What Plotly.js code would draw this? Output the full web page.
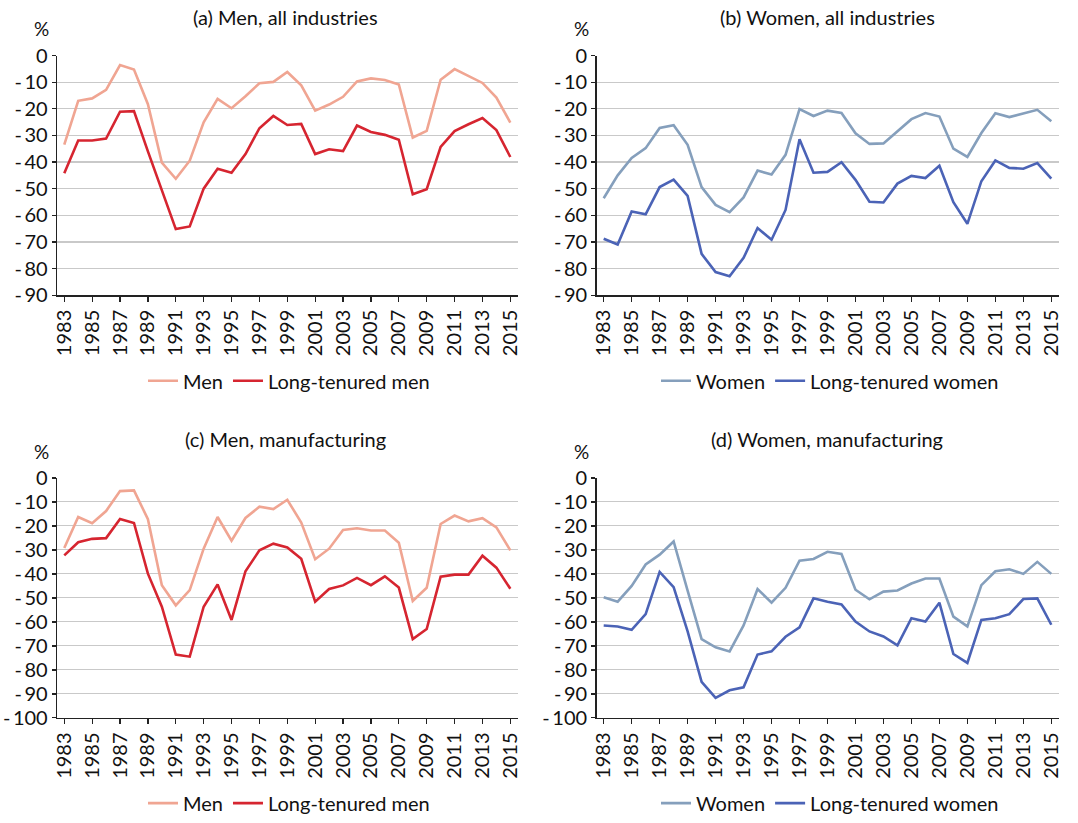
<!DOCTYPE html>
<html>
<head>
<meta charset="utf-8">
<script src="https://cdn.plot.ly/plotly-3.0.1.min.js"></script>
<style>html,body{margin:0;padding:0;background:#fff;}#chart{width:1078px;height:823px;}</style>
</head>
<body>
<div id="chart"></div>
<script>
const years = [];
for (let y = 1983; y <= 2015; y++) years.push(y);

const menAll = [-33.5,-17.0,-16.1,-12.9,-3.6,-5.3,-18.3,-40.2,-46.3,-39.5,-25.1,-16.3,-19.8,-15.3,-10.4,-9.9,-6.2,-11.2,-20.7,-18.4,-15.5,-9.7,-8.6,-9.2,-10.9,-30.8,-28.3,-9.1,-5.1,-7.6,-10.3,-15.8,-25.2];
const ltMenAll = [-44.2,-31.9,-31.9,-31.2,-21.1,-20.9,-36.0,-50.5,-65.2,-64.2,-50.0,-42.5,-44.0,-37.0,-27.3,-22.7,-26.1,-25.7,-37.0,-35.2,-35.9,-26.3,-28.7,-29.8,-31.6,-52.1,-50.2,-34.3,-28.4,-25.8,-23.5,-28.0,-38.1];
const womenAll = [-53.6,-45.0,-38.5,-34.8,-27.2,-26.2,-33.5,-49.4,-56.1,-58.8,-53.3,-43.2,-44.7,-37.3,-20.1,-22.7,-20.7,-21.6,-29.2,-33.2,-33.0,-28.6,-23.9,-21.6,-22.9,-35.0,-38.1,-29.1,-21.7,-23.1,-21.7,-20.4,-24.7];
const ltWomenAll = [-68.8,-71.0,-58.6,-59.6,-49.4,-46.6,-52.7,-74.5,-81.3,-82.9,-76.0,-64.8,-69.2,-58.0,-31.4,-44.0,-43.7,-40.1,-46.7,-54.9,-55.2,-48.1,-45.2,-46.0,-41.4,-55.1,-63.2,-47.2,-39.4,-42.2,-42.5,-40.4,-46.2];
const menMfg = [-29.2,-16.3,-18.9,-13.8,-5.5,-5.2,-17.2,-44.7,-53.1,-46.8,-29.5,-16.3,-26.2,-16.7,-12.0,-13.0,-9.1,-18.6,-33.9,-29.5,-21.7,-21.0,-21.9,-21.9,-27.0,-51.3,-45.8,-19.2,-15.7,-18.1,-16.8,-20.6,-30.2];
const ltMenMfg = [-32.3,-26.8,-25.4,-25.1,-17.1,-18.8,-39.9,-53.7,-73.6,-74.5,-53.7,-44.4,-59.2,-38.9,-30.2,-27.4,-29.0,-33.7,-51.6,-46.3,-44.8,-41.7,-44.7,-41.0,-45.7,-67.2,-63.0,-41.2,-40.3,-40.3,-32.4,-37.4,-46.2];
const womenMfg = [-49.7,-51.6,-45.0,-36.1,-32.0,-26.5,-47.0,-67.2,-70.6,-72.3,-61.5,-46.3,-52.0,-45.8,-34.5,-33.8,-30.8,-31.7,-46.6,-50.6,-47.4,-46.9,-44.0,-41.9,-41.9,-57.8,-61.9,-44.7,-38.9,-38.1,-40.0,-35.0,-40.0];
const ltWomenMfg = [-61.5,-61.9,-63.3,-56.8,-39.2,-45.5,-64.0,-85.0,-91.7,-88.5,-87.3,-73.6,-72.3,-66.2,-62.3,-50.2,-51.6,-52.7,-59.9,-64.0,-66.1,-69.8,-58.5,-59.9,-52.0,-73.4,-77.1,-59.2,-58.5,-56.8,-50.5,-50.2,-61.2];

const panelTitles = ["(a) Men, all industries", "(b) Women, all industries", "(c) Men, manufacturing", "(d) Women, manufacturing"];
const xTickYears = [1983,1985,1987,1989,1991,1993,1995,1997,1999,2001,2003,2005,2007,2009,2011,2013,2015];
const yTicksTop = [0,-10,-20,-30,-40,-50,-60,-70,-80,-90];
const yTicksBottom = [0,-10,-20,-30,-40,-50,-60,-70,-80,-90,-100];

const cMen = '#F0A592', cLtMen = '#D62530', cWomen = '#859FBC', cLtWomen = '#4B63B6';
const FONT = 'Lato, "Open Sans", sans-serif';
const FS = 20;

function lbl(v){ return v === 0 ? '0' : '-\u2009' + Math.abs(v); }

function tr(y, name, color, xa, ya, leg){
  return {x: years, y: y, name: name, type: 'scatter', mode: 'lines',
    line: {color: color, width: 2.6}, xaxis: xa, yaxis: ya, legend: leg, hoverinfo: 'skip'};
}

const data = [
  tr(menAll, 'Men', cMen, 'x', 'y', 'legend'),
  tr(ltMenAll, 'Long-tenured men', cLtMen, 'x', 'y', 'legend'),
  tr(womenAll, 'Women', cWomen, 'x2', 'y2', 'legend2'),
  tr(ltWomenAll, 'Long-tenured women', cLtWomen, 'x2', 'y2', 'legend2'),
  tr(menMfg, 'Men', cMen, 'x3', 'y3', 'legend3'),
  tr(ltMenMfg, 'Long-tenured men', cLtMen, 'x3', 'y3', 'legend3'),
  tr(womenMfg, 'Women', cWomen, 'x4', 'y4', 'legend4'),
  tr(ltWomenMfg, 'Long-tenured women', cLtWomen, 'x4', 'y4', 'legend4')
];

const W = 1078, H = 823;
function xax(l, r, anchor){
  return {domain: [l / W, r / W], range: [1982.5, 2015.55], anchor: anchor,
    tickmode: 'array', tickvals: xTickYears, ticktext: xTickYears.map(String), tickangle: -90,
    ticks: 'outside', ticklen: 5, tickwidth: 1.3, tickcolor: '#222',
    showline: true, linecolor: '#222', linewidth: 1.6, showgrid: false, zeroline: false,
    tickfont: {size: FS, color: '#111', family: FONT}, fixedrange: true};
}
function yax(t, b, anchor, ticks, lo){
  return {domain: [(H - b) / H, (H - t) / H], range: [lo, 0], anchor: anchor,
    tickmode: 'array', tickvals: ticks, ticktext: ticks.map(lbl),
    ticks: 'outside', ticklen: 4, tickwidth: 1.3, tickcolor: '#222',
    showline: true, linecolor: '#222', linewidth: 1.6, showgrid: true, gridcolor: '#c9c9c9', gridwidth: 1.2,
    zeroline: false, tickfont: {size: FS, color: '#111', family: FONT}, fixedrange: true};
}

function leg(x, y){
  return {orientation: 'h', x: x / W, y: (H - y) / H, xanchor: 'center', yanchor: 'middle',
    font: {size: FS, color: '#111', family: FONT}, bgcolor: 'rgba(0,0,0,0)', itemwidth: 30, tracegroupgap: 0};
}

function ann(text, x, y, size){
  return {text: text, x: x / W, y: (H - y) / H, xref: 'paper', yref: 'paper', showarrow: false,
    xanchor: 'center', yanchor: 'middle', font: {size: size || FS, color: '#111', family: FONT}};
}

const layout = {
  width: W, height: H, margin: {l: 0, r: 0, t: 0, b: 0},
  paper_bgcolor: '#fff', plot_bgcolor: '#fff', font: {family: FONT, color: '#111'},
  xaxis: xax(57.3, 518, 'y'), yaxis: yax(56, 297.7, 'x', yTicksTop, -90),
  xaxis2: xax(596.7, 1059, 'y2'), yaxis2: yax(56, 297.7, 'x2', yTicksTop, -90),
  xaxis3: xax(57.3, 518, 'y3'), yaxis3: yax(482, 724, 'x3', yTicksBottom, -100),
  xaxis4: xax(596.7, 1059, 'y4'), yaxis4: yax(482, 724, 'x4', yTicksBottom, -100),
  legend: leg(289, 384), legend2: leg(830, 384), legend3: leg(289, 810), legend4: leg(830, 810),
  annotations: [
    ann(panelTitles[0], 285, 17), ann(panelTitles[1], 827, 17),
    ann(panelTitles[2], 285, 443), ann(panelTitles[3], 827, 443),
    ann('%', 41.7, 29, 19), ann('%', 581, 29, 19), ann('%', 41.7, 455, 19), ann('%', 581, 455, 19)
  ]
};

Plotly.newPlot('chart', data, layout, {displayModeBar: false, staticPlot: true});
</script>
</body>
</html>
